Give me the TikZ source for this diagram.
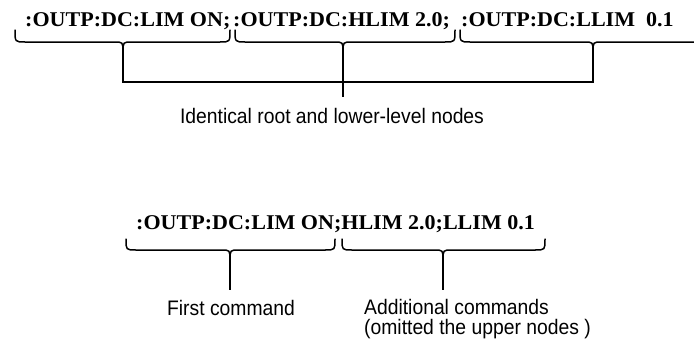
\documentclass[tikz,border=0pt]{standalone}
\usepackage{fontspec}
\setmainfont{Liberation Serif}
\setsansfont{Liberation Sans}
\tikzset{
  cmd/.style={anchor=base west, inner sep=0pt, font=\fontsize{21}{23}\selectfont\bfseries},
  lbl/.style={inner sep=0pt, font=\fontsize{21}{23}\selectfont\sffamily},
  bracepath/.style={line width=1.5pt, line join=round, line cap=round},
  conn/.style={line width=1.5pt, line cap=butt},
}
\newcommand{\cmdtext}[1]{\scalebox{1.05}[1]{#1}}
\newcommand{\lbltext}[1]{\scalebox{0.92}[1]{#1}}
% xl, xr, xt, y0 (ends), y1 (bar), y2 (tip)
\newcommand{\mybrace}[6]{%
  \draw[bracepath] (#1,#4) .. controls (#1,#5) .. (#1+10,#5) -- (#3-9,#5)
    .. controls (#3,#5) .. (#3,#6) .. controls (#3,#5) .. (#3+9,#5)
    -- (#2-10,#5) .. controls (#2,#5) .. (#2,#4);}
\begin{document}
\begin{tikzpicture}[x=1pt,y=-1pt]
\useasboundingbox (0,0) rectangle (694,343);

% ---- upper example ----
\node[cmd] (t1) at (25,26) {\cmdtext{:OUTP:DC:LIM ON;}};
\node[cmd] (t2) at (233,26) {\cmdtext{:OUTP:DC:HLIM 2.0;}};
\node[cmd] (t3) at (461,26) {\cmdtext{:OUTP:DC:LLIM\ \ 0.1}};

\mybrace{15}{230}{123}{30}{42}{52}
\mybrace{235}{455}{343}{30}{42}{52}
\mybrace{460}{726}{593}{30}{42}{52}

\coordinate (b1) at (123,51);
\coordinate (b2) at (343,51);
\coordinate (b3) at (593,51);
\coordinate (h1) at (123,82);
\coordinate (h3) at (593,82);
\coordinate (k2) at (343,97);

\draw[conn] (b1) -- (h1) -- (h3) -- (b3);
\draw[conn] (b2) -- (k2);

\node[lbl, anchor=base] (l1) at (332,123) {\lbltext{Identical root and lower-level nodes}};

% ---- lower example ----
\node[cmd] (s1) at (136,229) {\cmdtext{:OUTP:DC:LIM ON;HLIM 2.0;LLIM 0.1}};

\mybrace{126}{335}{230}{239}{250}{260}
\mybrace{342}{545}{443}{239}{250}{260}

\coordinate (c1) at (230,259);
\coordinate (c2) at (443,259);
\coordinate (d1) at (230,290);
\coordinate (d2) at (443,290);
\draw[conn] (c1) -- (d1);
\draw[conn] (c2) -- (d2);

\node[lbl, anchor=base] (l2) at (231,315) {\lbltext{First command}};
\node[lbl, anchor=base west] (l3) at (364,314) {\lbltext{Additional commands}};
\node[lbl, anchor=base west] (l4) at (364,334) {\lbltext{(omitted the upper nodes )}};
\end{tikzpicture}
\end{document}
